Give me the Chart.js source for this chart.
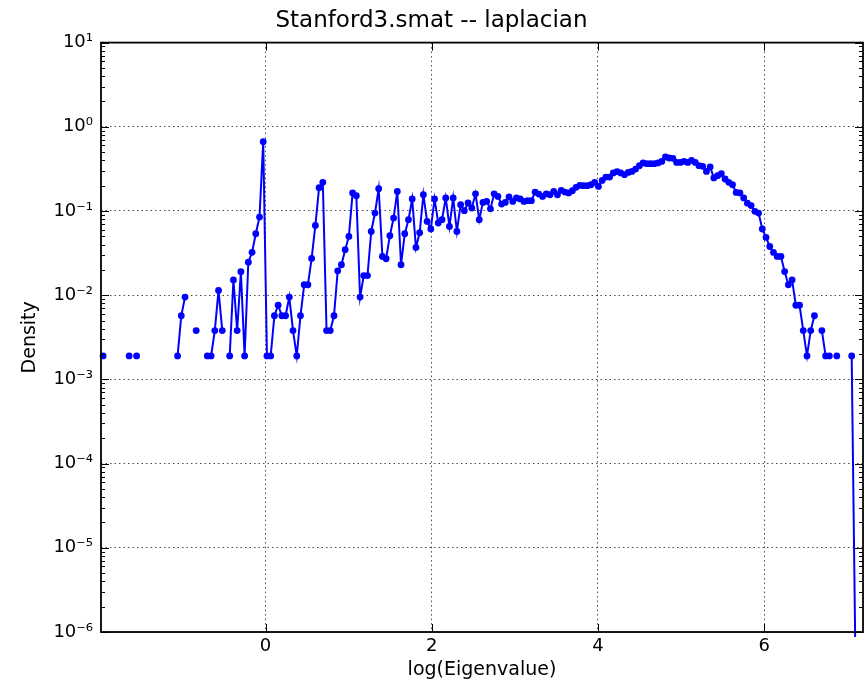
<!DOCTYPE html>
<html>
<head>
<meta charset="utf-8">
<title>Stanford3.smat -- laplacian</title>
<script src="https://cdn.jsdelivr.net/npm/chart.js@4.4.1/dist/chart.umd.min.js"></script>
<style>
  html, body { margin: 0; padding: 0; background: #fff; }
  #wrap { width: 868px; height: 681px; }
</style>
</head>
<body>
<div id="wrap"><canvas id="spectrumChart" width="868" height="681"></canvas></div>
<script>
// histogram bins of log(eigenvalue): first bin position and bin width
var binStart = -1.955;
var binStep = 0.04482;

// density per bin (null = empty bin, masked on the log axis)
var density = [
  0.0019, null, null, null, null, null, null, 0.0019, null, 0.0019,
  null, null, null, null, null, null, null, null, null, null,
  0.0019, 0.0057, 0.0095, null, null, 0.0038, null, null, 0.0019, 0.0019,
  0.0038, 0.0114, 0.0038, null, 0.0019, 0.0152, 0.0038, 0.019, 0.0019, 0.0247,
  0.0323, 0.0537, 0.0848, 0.666, 0.0019, 0.0019, 0.0057, 0.0076, 0.0057, 0.0057,
  0.0095, 0.0038, 0.0019, 0.0057, 0.0133, 0.0133, 0.0273, 0.0674, 0.189, 0.219,
  0.0038, 0.0038, 0.0057, 0.0195, 0.023, 0.0347, 0.0499, 0.164, 0.152, 0.0095,
  0.0171, 0.0171, 0.0572, 0.0946, 0.184, 0.0288, 0.0271, 0.0508, 0.0825, 0.171,
  0.023, 0.0537, 0.0788, 0.139, 0.0369, 0.0552, 0.156, 0.0752, 0.0611, 0.139,
  0.072, 0.0788, 0.143, 0.0656, 0.143, 0.0572, 0.119, 0.101, 0.1245, 0.1085,
  0.16, 0.0788, 0.1265, 0.13, 0.106, 0.16, 0.149, 0.121, 0.1265, 0.147,
  0.13, 0.143, 0.139, 0.13, 0.1325, 0.1325, 0.168, 0.159, 0.149, 0.16,
  0.156, 0.171, 0.156, 0.176, 0.168, 0.164, 0.174, 0.191, 0.201, 0.2,
  0.2, 0.205, 0.219, 0.196, 0.231, 0.253, 0.253, 0.283, 0.293, 0.283,
  0.27, 0.287, 0.295, 0.315, 0.345, 0.372, 0.365, 0.365, 0.365, 0.372,
  0.388, 0.438, 0.426, 0.422, 0.378, 0.378, 0.388, 0.378, 0.399, 0.378,
  0.345, 0.339, 0.295, 0.333, 0.247, 0.263, 0.277, 0.24, 0.219, 0.205,
  0.166, 0.164, 0.143, 0.124, 0.116, 0.099, 0.0946, 0.0611, 0.0485, 0.0379,
  0.0322, 0.0289, 0.0289, 0.0191, 0.0133, 0.0152, 0.0076, 0.0076, 0.0038, 0.0019,
  0.0038, 0.0057, null, 0.0038, 0.0019, 0.0019, null, 0.0019, null, null,
  null, 0.0019, 5e-7
];

var xTickValues = [0, 2, 4, 6];
var yTickExponents = [-6, -5, -4, -3, -2, -1, 0, 1];

var supMap = { '-': '\u207B', '0': '\u2070', '1': '\u00B9', '2': '\u00B2', '3': '\u00B3',
               '4': '\u2074', '5': '\u2075', '6': '\u2076', '7': '\u2077', '8': '\u2078', '9': '\u2079' };
function sup(n) {
  return String(n).split('').map(function(c) { return supMap[c]; }).join('');
}

var points = density.map(function(d, i) {
  return { x: binStart + i * binStep, y: d };
});

// frame + inward ticks (matplotlib look)
var framePlugin = {
  id: 'frame',
  afterDatasetsDraw: function(chart) {
    var ctx = chart.ctx, a = chart.chartArea;
    var xs = chart.scales.x, ys = chart.scales.y;
    function seg(x1, y1, x2, y2) {
      ctx.beginPath(); ctx.moveTo(x1, y1); ctx.lineTo(x2, y2); ctx.stroke();
    }
    ctx.save();
    ctx.strokeStyle = '#000';
    ctx.lineWidth = 1;
    xTickValues.forEach(function(v) {
      var px = Math.round(xs.getPixelForValue(v)) + 0.5;
      seg(px, a.bottom, px, a.bottom - 8);
      seg(px, a.top, px, a.top + 8);
    });
    yTickExponents.forEach(function(e) {
      var py = Math.round(ys.getPixelForValue(Math.pow(10, e))) + 0.5;
      seg(a.left, py, a.left + 8, py);
      seg(a.right, py, a.right - 8, py);
      if (e < 1) {
        for (var m = 2; m <= 9; m++) {
          var pm = Math.round(ys.getPixelForValue(m * Math.pow(10, e))) + 0.5;
          seg(a.left, pm, a.left + 4, pm);
          seg(a.right, pm, a.right - 4, pm);
        }
      }
    });
    ctx.lineWidth = 1.8;
    ctx.strokeRect(a.left, a.top, a.right - a.left, a.bottom - a.top);
    ctx.restore();
  }
};

Chart.defaults.font.family = "'DejaVu Sans', sans-serif";
Chart.defaults.color = '#000';

var ctx = document.getElementById('spectrumChart').getContext('2d');
var spectrumChart = new Chart(ctx, {
  type: 'line',
  data: {
    datasets: [{
      data: points,
      borderColor: '#0000ff',
      backgroundColor: '#0000ff',
      pointBackgroundColor: '#0000ff',
      pointBorderWidth: 0,
      pointRadius: 3.4,
      borderWidth: 2,
      tension: 0,
      spanGaps: false,
      clip: 5
    }]
  },
  options: {
    responsive: false,
    animation: false,
    events: [],
    layout: { padding: { left: 0, right: 5, top: 0, bottom: 0 } },
    plugins: {
      legend: { display: false },
      tooltip: { enabled: false },
      title: {
        display: true,
        text: 'Stanford3.smat -- laplacian',
        color: '#000',
        font: { size: 23, weight: 'normal' },
        padding: { top: 7, bottom: 8 }
      }
    },
    scales: {
      x: {
        type: 'linear',
        min: -1.98,
        max: 7.19,
        afterBuildTicks: function(s) { s.ticks = xTickValues.map(function(v) { return { value: v }; }); },
        afterFit: function(s) { s.height = 49; },
        grid: { drawTicks: false, color: 'rgba(0,0,0,0.7)', lineWidth: 1 },
        border: { display: false, dash: [1.5, 3] },
        ticks: {
          padding: 4,
          autoSkip: false,
          maxRotation: 0,
          font: { size: 18 },
          callback: function(v) { return String(v); }
        },
        title: { display: true, text: 'log(Eigenvalue)', font: { size: 19 }, padding: { top: 0, bottom: 0 } }
      },
      y: {
        type: 'logarithmic',
        min: 1e-6,
        max: 10,
        afterBuildTicks: function(s) { s.ticks = yTickExponents.map(function(e) { return { value: Math.pow(10, e) }; }); },
        afterFit: function(s) { s.width = 101; },
        grid: { drawTicks: false, color: 'rgba(0,0,0,0.7)', lineWidth: 1 },
        border: { display: false, dash: [1.5, 3] },
        ticks: {
          padding: 8,
          autoSkip: false,
          font: { size: 18 },
          callback: function(v) { return '10' + sup(Math.round(Math.log10(v))); }
        },
        title: { display: true, text: 'Density', font: { size: 19 }, padding: { top: 19, bottom: 0 } }
      }
    }
  },
  plugins: [framePlugin]
});
</script>
</body>
</html>
